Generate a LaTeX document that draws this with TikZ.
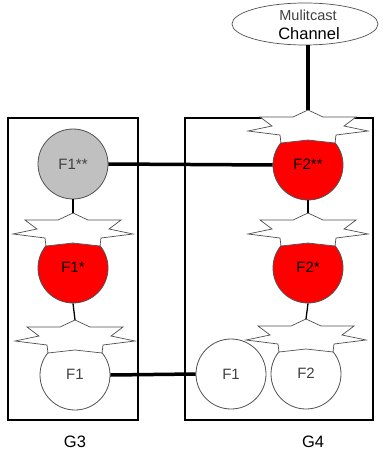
\documentclass[tikz,border=0pt]{standalone}
\usepackage{fontspec}
\setmainfont{Liberation Sans}
\usetikzlibrary{shapes.geometric,calc}
\definecolor{fred}{HTML}{FF0000}
\definecolor{fgray}{HTML}{C0C0C0}
\definecolor{edge}{HTML}{505050}
\definecolor{txtgray}{HTML}{404040}
\tikzset{
  x=1pt, y=-1pt,
  groupbox/.style={draw=black, line width=1.8pt},
  fcirc/.style={circle, draw=edge, line width=0.8pt, minimum size=70pt, inner sep=0pt},
  ftext/.style={font=\fontsize{15}{15}\selectfont},
  starcap/.style={draw=edge, line width=0.7pt, fill=white, line join=miter},
  thinlink/.style={draw=black, line width=1.3pt},
  thicklink/.style={draw=black, line width=3.5pt},
  grouplabel/.style={font=\fontsize{16.5}{16}\selectfont},
}
% star cap above a circle node #1, top point named #2
\newcommand{\capstar}[2]{%
  \path[starcap] ($(#1)+(-27,-22)$) -- ++(-1,-8) -- ++(-32,-4) -- ++(24,-5) -- ++(-12,-9)
     -- ++(33,0) -- ++(15,-7) coordinate (#2) -- ++(15,7) -- ++(33,0) -- ++(-12,9) -- ++(24,5)
     -- ++(-32,4) -- ++(-1,8) -- ($(#1)+(0,-25)$) -- cycle;}
\begin{document}
\begin{tikzpicture}
\useasboundingbox (0,0) rectangle (382,454);
% groups
\draw[groupbox] (8,118) rectangle (138,420);
\draw[groupbox] (185,118) rectangle (373,420);
\node[grouplabel] (g3) at (75,442) {G3};
\node[grouplabel] (g4) at (313,442) {G4};
% multicast channel
\node[ellipse, draw=edge, line width=0.7pt, minimum width=146pt, minimum height=42pt, inner sep=0pt] (mc) at (305,24) {};
\node[text=txtgray, font=\fontsize{14.5}{14}\selectfont] (mct) at (308,15) {Mulitcast};
\node[font=\fontsize{16.5}{16}\selectfont] (mcc) at (309,34) {Channel};
% G3 circles
\node[fcirc, fill=fgray, text=txtgray, ftext] (f1ss) at (73,164) {F1**};
\node[fcirc, fill=fred] (f1s) at (73,268) {};
\capstar{f1s}{f1stop}
\node[ftext] (f1st) at (73,267) {F1*};
\node[fcirc, fill=white] (f1a) at (75,375) {};
\capstar{f1a}{f1atop}
\node[ftext, text=txtgray] (f1at) at (75,374) {F1};
% G4 circles
\node[fcirc, fill=fred] (f2ss) at (308,165) {};
\capstar{f2ss}{f2sstop}
\node[ftext] (f2sst) at (308,164) {F2**};
\node[fcirc, fill=fred] (f2s) at (308,268) {};
\capstar{f2s}{f2stop}
\node[ftext] (f2st) at (308,267) {F2*};
\node[fcirc, fill=white, text=txtgray, ftext] (f1b) at (231,374) {F1};
\node[fcirc, fill=white] (f2b) at (306,374) {};
\capstar{f2b}{f2btop}
\node[ftext, text=txtgray] (f2bt) at (306,373) {F2};
% links
\draw[thinlink] (f1ss.south) -- (f1stop);
\draw[thinlink] (f1s.south) -- (f1atop);
\draw[thinlink] (f2ss.south) -- (f2stop);
\draw[thinlink] (f2s.south) -- (f2btop);
\draw[thicklink] (f1ss.east) -- (f2ss.west);
\draw[thicklink] (f1a.east) -- (f1b.west);
\draw[thicklink] (f2sstop) -- (f2sstop |- mc.south);
\end{tikzpicture}
\end{document}
